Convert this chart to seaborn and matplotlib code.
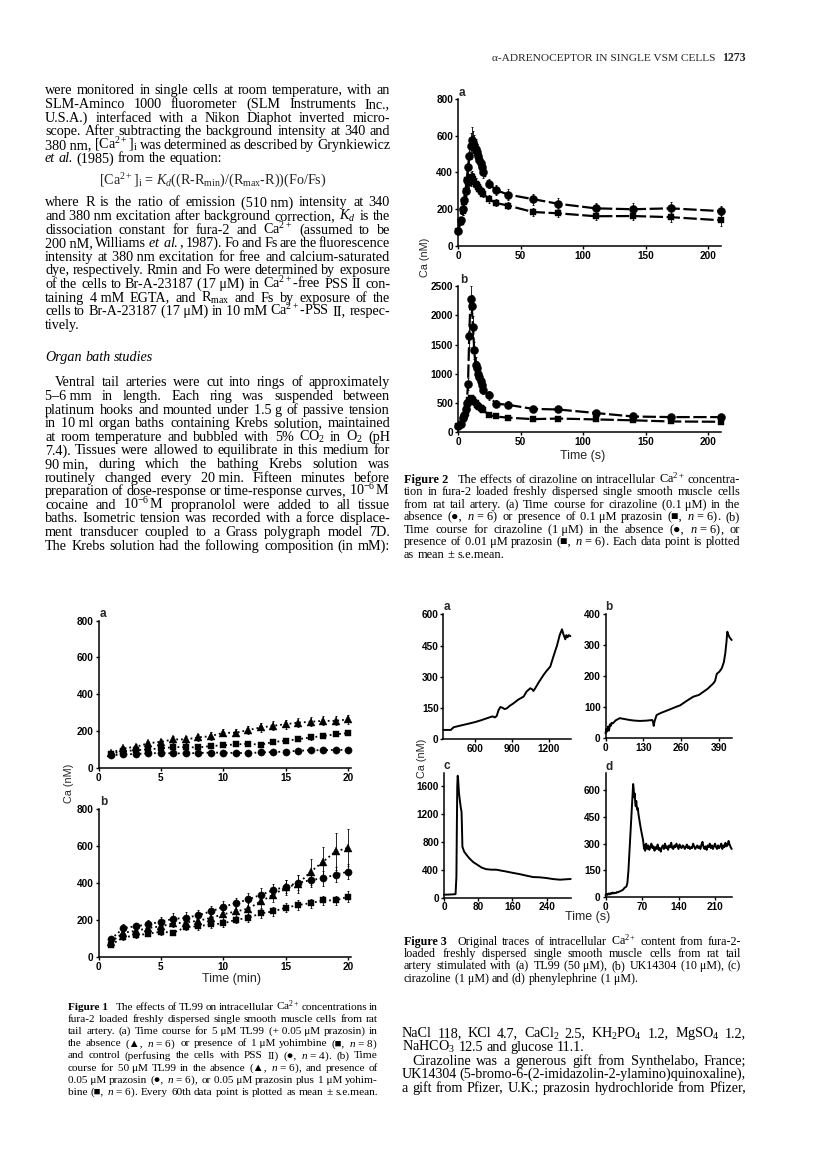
import statistics
import matplotlib
matplotlib.use("Agg")
import matplotlib.pyplot as plt
import seaborn as sns

# ---------------------------------------------------------------- data
# Figure 1 (TL99), time in min
t1 = [1, 2, 3, 4, 5, 6, 7, 8, 9, 10, 11, 12, 13, 14, 15, 16, 17, 18, 19, 20]
f1a_tri = [80, 105, 114, 133, 141, 154, 154, 165, 172, 190, 190, 205, 219, 228, 237, 245, 250, 255, 255, 263]
f1a_tri_e = [10, 12, 14, 15, 15, 18, 18, 18, 20, 20, 20, 22, 22, 25, 25, 25, 25, 25, 25, 25]
f1a_sq = [75, 90, 95, 100, 105, 112, 112, 110, 118, 122, 127, 130, 125, 140, 147, 155, 165, 172, 182, 188]
f1a_sq_e = [8, 10, 10, 10, 10, 10, 10, 10, 10, 10, 10, 12, 12, 12, 12, 12, 12, 12, 12, 12]
f1a_ci = [68, 72, 75, 78, 80, 78, 78, 80, 82, 82, 80, 80, 83, 85, 88, 92, 95, 95, 97, 97]
f1a_ci_e = [8, 8, 8, 8, 8, 8, 8, 8, 8, 8, 8, 8, 8, 8, 8, 8, 8, 8, 8, 8]
f1b_tri = [80, 130, 140, 155, 165, 180, 185, 195, 210, 230, 245, 260, 300, 335, 375, 395, 460, 515, 570, 590]
f1b_tri_e = [10, 15, 15, 15, 15, 20, 20, 20, 25, 25, 30, 30, 35, 40, 40, 50, 70, 80, 100, 100]
f1b_ci = [95, 155, 165, 175, 190, 205, 210, 225, 245, 270, 290, 310, 335, 360, 380, 400, 415, 425, 445, 460]
f1b_ci_e = [10, 20, 20, 25, 25, 30, 30, 30, 30, 30, 30, 35, 35, 35, 35, 40, 40, 40, 40, 40]
f1b_sq = [65, 105, 115, 125, 135, 130, 160, 165, 175, 180, 200, 210, 235, 245, 265, 280, 290, 305, 305, 325]
f1b_sq_e = [10, 15, 15, 15, 15, 15, 15, 20, 20, 20, 20, 20, 25, 25, 25, 25, 25, 25, 25, 30]

# Figure 2 (cirazoline), time in s
t2 = [0, 2, 4, 5, 6, 7, 8, 9, 10, 11, 12, 13, 14, 15, 16, 17, 18, 19, 20, 25, 30, 40, 60, 80, 110, 140, 170, 210]
f2a_ci = [80, 140, 200, 250, 300, 360, 430, 490, 545, 575, 565, 550, 530, 510, 490, 470, 450, 430, 400, 340, 305, 280, 255, 230, 205, 200, 205, 190]
f2a_ci_e = [10, 20, 30, 30, 40, 50, 60, 60, 70, 70, 60, 55, 50, 45, 40, 40, 35, 30, 30, 25, 25, 30, 30, 30, 30, 35, 35, 30]
f2a_sq = [80, 130, 190, 240, 300, 360, 350, 345, 365, 375, 365, 350, 340, 330, 320, 310, 300, 292, 285, 255, 235, 220, 185, 178, 162, 163, 157, 140]
f2a_sq_e = [10, 15, 20, 25, 30, 35, 40, 40, 40, 35, 30, 30, 30, 25, 25, 25, 20, 20, 20, 20, 20, 20, 20, 20, 20, 20, 25, 30]
f2b_ci = [100, 150, 250, 300, 400, 500, 820, 1650, 2280, 2150, 1800, 1400, 1150, 1100, 1000, 950, 880, 800, 730, 630, 490, 470, 400, 390, 330, 270, 260, 260]
f2b_ci_e = [10, 20, 30, 40, 50, 60, 100, 200, 220, 200, 180, 150, 130, 120, 110, 100, 100, 90, 80, 70, 60, 60, 50, 50, 40, 30, 30, 30]
f2b_sq = [100, 150, 230, 260, 330, 420, 500, 560, 590, 575, 550, 520, 500, 475, 450, 430, 410, 395, 380, 295, 270, 250, 225, 235, 220, 205, 185, 180]
f2b_sq_e = [10, 20, 25, 30, 35, 40, 40, 40, 40, 40, 35, 35, 30, 30, 30, 30, 25, 25, 25, 20, 20, 20, 20, 20, 20, 20, 20, 20]

# Figure 3 (original traces), time in s
t3a = [340, 400, 423, 480, 559, 600, 650, 695, 740, 760, 775, 790, 805, 820, 840, 859, 880, 913, 950, 995, 1020, 1050,
       1065, 1075, 1090, 1120, 1158, 1185, 1213, 1240, 1268, 1290, 1309, 1320, 1336, 1345, 1355, 1365, 1377]
v3a = [45, 45, 58, 66, 77, 83, 92, 101, 110, 105, 112, 140, 155, 152, 145, 149, 160, 173, 190, 205, 230, 245,
       240, 232, 245, 275, 309, 330, 349, 400, 450, 500, 528, 505, 480, 500, 490, 500, 495]
t3b = [0, 3, 6, 9, 12, 15, 18, 21, 25, 35, 49, 60, 83, 100, 118, 140, 160, 163, 165, 168, 175, 190, 209, 225, 243,
       255, 266, 280, 300, 320, 335, 350, 369, 375, 381, 390, 398, 405, 410, 414, 417, 420, 425, 432]
v3b = [16, 30, 22, 38, 25, 45, 40, 50, 48, 58, 65, 63, 59, 57, 56, 57, 59, 52, 40, 55, 75, 82, 89, 95, 102,
       106, 113, 122, 134, 140, 150, 160, 177, 185, 208, 215, 226, 245, 274, 310, 344, 335, 325, 317]
t3c = [0, 10, 20, 27, 29, 30, 31, 32, 33, 35, 37, 39, 41, 42, 43, 47, 53, 59, 68, 78, 88, 98, 110, 122, 135, 145,
       160, 176, 192, 208, 224, 239, 255, 271, 285, 296]
v3c = [40, 42, 45, 48, 300, 1000, 1600, 1750, 1700, 1500, 1400, 1300, 1230, 1000, 730, 660, 610, 565, 510, 470,
       430, 408, 400, 400, 385, 374, 355, 337, 315, 294, 290, 280, 265, 256, 262, 266]
t3d = [0, 2, 4, 6, 8, 10, 12, 14, 16, 18, 20, 22, 24, 26, 28, 30, 32, 34, 36, 38, 40, 42, 44, 46, 48, 50, 52, 53,
       54, 55, 56, 57, 58, 59, 60, 61, 62, 63, 64, 66, 68, 70, 72, 74, 75, 76, 77, 78,
       80, 82, 84, 86, 88, 90, 92, 94, 96, 98, 100, 102, 104, 106, 108, 110, 112, 114, 116, 118, 120, 122, 124,
       126, 128, 130, 132, 134, 136, 138, 140, 142, 144, 146, 148, 150, 152, 154, 156, 158, 160, 162, 164, 166,
       168, 170, 172, 174, 176, 178, 180, 182, 184, 186, 188, 190, 192, 194, 196, 198, 200, 202, 204, 206, 208,
       210, 212, 214, 216, 218, 220, 222, 224, 226, 228, 230, 232, 234, 236, 238, 240, 242]
v3d = [11, 18, 12, 20, 15, 22, 18, 25, 20, 24, 22, 28, 26, 30, 32, 35, 38, 42, 50, 55, 58, 80, 150, 260, 380, 480,
       600, 635, 610, 560, 582, 530, 510, 540, 507, 490, 500, 470, 450, 414, 380, 350, 320, 270, 290, 260, 280, 300,
       270, 290, 265, 280, 300, 275, 285, 260, 280, 270, 295, 265, 275, 255, 280, 290, 270, 300, 275, 285, 265,
       290, 280, 305, 275, 270, 290, 280, 300, 285, 270, 295, 280, 275, 290, 285, 270, 280, 295, 275, 285, 270,
       280, 275, 300, 285, 270, 280, 290, 275, 285, 270, 295, 310, 280, 270, 285, 265, 290, 280, 300, 275, 290,
       270, 285, 300, 280, 270, 290, 275, 285, 300, 270, 290, 280, 305, 285, 290, 315, 295, 280, 270]

f1_xticks = [0, 5, 10, 15, 20]
f1_yticks = [0, 200, 400, 600, 800]
f2_xticks = [0, 50, 100, 150, 200]
f2a_yticks = [0, 200, 400, 600, 800]
f2b_yticks = [0, 500, 1000, 1500, 2000, 2500]
f3a_xticks, f3a_yticks = [600, 900, 1200], [0, 150, 300, 450, 600]
f3b_xticks, f3b_yticks = [0, 130, 260, 390], [0, 100, 200, 300, 400]
f3c_xticks, f3c_yticks = [0, 80, 160, 240], [0, 400, 800, 1200, 1600]
f3d_xticks, f3d_yticks = [0, 70, 140, 210], [0, 150, 300, 450, 600]

# ---------------------------------------------------------------- setup
sns.set_theme(style="ticks")
SANS = ["Liberation Sans", "DejaVu Sans"]
SERIF = ["Liberation Serif", "DejaVu Sans"]
plt.rcParams["font.family"] = SANS
plt.rcParams["mathtext.fontset"] = "custom"
plt.rcParams["mathtext.rm"] = "Liberation Serif"
plt.rcParams["mathtext.it"] = "Liberation Serif:italic"
plt.rcParams["mathtext.bf"] = "Liberation Serif:bold"

W, H, DPI = 816, 1171, 100
fig = plt.figure(figsize=(W / DPI, H / DPI), dpi=DPI)
fig.patch.set_facecolor("white")
renderer = fig.canvas.get_renderer()


def make_ax(l, r, t, b):
    return fig.add_axes([l / W, 1 - b / H, (r - l) / W, (b - t) / H])


def style(ax, xlim, ylim, xt, yt, fs=7.2):
    ax.set_xlim(*xlim)
    ax.set_ylim(*ylim)
    ax.set_xticks(xt)
    ax.set_yticks(yt)
    ax.set_xticklabels([str(v) for v in xt])
    ax.set_yticklabels([str(v) for v in yt])
    sns.despine(ax=ax)
    for s in ("left", "bottom"):
        ax.spines[s].set_color("black")
        ax.spines[s].set_linewidth(1.1)
    ax.tick_params(axis="both", direction="out", length=2.5, width=1, colors="black",
                   labelsize=fs, pad=1)
    for lab in ax.get_xticklabels() + ax.get_yticklabels():
        lab.set_fontweight("bold")
        lab.set_family(SANS)
    ax.set_xlabel("")
    ax.set_ylabel("")
    ax.grid(False)
    ax.set_facecolor("none")


def series(ax, x, y, e, marker, ms, ls, lw):
    ax.errorbar(x, y, yerr=e, fmt="none", ecolor="black", elinewidth=0.6, capsize=1.0,
                capthick=0.6, clip_on=False)
    sns.lineplot(x=x, y=y, ax=ax, color="black", marker=marker, markersize=ms,
                 markeredgecolor="black", markeredgewidth=0.3, linestyle=ls, linewidth=lw,
                 estimator=None, sort=False)
    ax.lines[-1].set_clip_on(False)


def trace(ax, x, y):
    sns.lineplot(x=x, y=y, ax=ax, color="black", linewidth=1.4, estimator=None, sort=False)
    ax.lines[-1].set_clip_on(False)


def ftext(x, y, s, **kw):
    return fig.text(x / W, 1 - y / H, s, **kw)


# ---------------------------------------------------------------- Figure 2
ax = make_ax(458, 720.5, 99, 246)
series(ax, t2, f2a_ci, f2a_ci_e, "o", 5.8, (0, (6, 1.6)), 1.6)
series(ax, t2, f2a_sq, f2a_sq_e, "s", 4.6, (0, (6, 1.6)), 1.6)
style(ax, (0, 210), (0, 800), f2_xticks, f2a_yticks)

ax = make_ax(458, 720.5, 286, 432.3)
series(ax, t2, f2b_ci, f2b_ci_e, "o", 5.8, (0, (6, 1.6)), 1.6)
series(ax, t2, f2b_sq, f2b_sq_e, "s", 4.6, (0, (6, 1.6)), 1.6)
style(ax, (0, 210), (0, 2500), f2_xticks, f2b_yticks)

ftext(459, 93, "a", fontsize=8.5, fontweight="bold", ha="left", va="center", family=SANS)
ftext(460, 280, "b", fontsize=8.5, fontweight="bold", ha="left", va="center", family=SANS)
ftext(425, 257, "Ca (nM)", fontsize=7.8, rotation=90, ha="center", va="center", family=SANS)
ftext(583, 456, "Time (s)", fontsize=9, ha="center", va="center", family=SANS)

# ---------------------------------------------------------------- Figure 1
ax = make_ax(98.5, 350.6, 620.7, 767.7)
series(ax, t1, f1a_tri, f1a_tri_e, "^", 5.2, ":", 1.3)
series(ax, t1, f1a_sq, f1a_sq_e, "s", 4.2, ":", 1.3)
series(ax, t1, f1a_ci, f1a_ci_e, "o", 5.2, ":", 1.3)
style(ax, (0, 20.2), (0, 800), f1_xticks, f1_yticks)

ax = make_ax(98.5, 350.6, 809, 956.7)
series(ax, t1, f1b_tri, f1b_tri_e, "^", 5.2, ":", 1.3)
series(ax, t1, f1b_ci, f1b_ci_e, "o", 5.2, ":", 1.3)
series(ax, t1, f1b_sq, f1b_sq_e, "s", 4.2, ":", 1.3)
style(ax, (0, 20.2), (0, 800), f1_xticks, f1_yticks)

ftext(100, 614, "a", fontsize=8.5, fontweight="bold", ha="left", va="center", family=SANS)
ftext(100.5, 802, "b", fontsize=8.5, fontweight="bold", ha="left", va="center", family=SANS)
ftext(69, 783, "Ca (nM)", fontsize=7.8, rotation=90, ha="center", va="center", family=SANS)
ftext(231, 979, "Time (min)", fontsize=9, ha="center", va="center", family=SANS)

# ---------------------------------------------------------------- Figure 3
ax = make_ax(443.5, 570.7, 614.3, 739.3)
trace(ax, t3a, v3a)
style(ax, (340, 1380), (0, 600), f3a_xticks, f3a_yticks)
ax = make_ax(605.5, 731.7, 614.3, 738.3)
trace(ax, t3b, v3b)
style(ax, (0, 432), (0, 400), f3b_xticks, f3b_yticks)
ax = make_ax(444, 570.7, 773, 897.5)
trace(ax, t3c, v3c)
style(ax, (0, 296), (0, 1790), f3c_xticks, f3c_yticks)
ax = make_ax(605.5, 731.7, 773, 897)
trace(ax, t3d, v3d)
style(ax, (0, 242), (0, 697), f3d_xticks, f3d_yticks)

for lx, ly, s in [(444, 607, "a"), (605, 607, "b"), (444, 766, "c"), (605, 767, "d")]:
    ftext(lx, ly, s, fontsize=8.5, fontweight="bold", ha="left", va="center", family=SANS)
ftext(422, 758, "Ca (nM)", fontsize=7.8, rotation=90, ha="center", va="center", family=SANS)
ftext(588, 917, "Time (s)", fontsize=9, ha="center", va="center", family=SANS)


# ---------------------------------------------------------------- text
def make_tokens(line, size):
    objs, extra = [], []
    em = size * DPI / 72.0
    for tok in line.split(" "):
        st, wt = "normal", "normal"
        if tok.startswith("#") and tok.endswith("#") and len(tok) > 2:
            tok = tok[1:-1]
            wt = "bold"
        elif tok.startswith("§"):
            tok = tok[1:]
            st = "italic"
        if "$" not in tok:
            tok = tok.replace("~", " ")
        t = fig.text(0, 0, tok, fontsize=size, family=SERIF, style=st, weight=wt,
                     va="baseline", ha="left", color="black")
        objs.append(t)
        extra.append(0.55 * em if wt == "bold" else 0.0)
    return objs, extra


def widths(objs):
    return [o.get_window_extent(renderer).width for o in objs]


def fill_ratio(x0, x1, line, size, indent=0.0):
    objs, extra = make_tokens(line, size)
    ws = widths(objs)
    em = size * DPI / 72.0
    nat = sum(ws) + 0.25 * em * (len(objs) - 1) + sum(extra)
    for o in objs:
        o.remove()
    return (x1 - x0 - indent) / nat


def put_line(x0, x1, yc, line, size, justify=True, indent=0.0):
    objs, extra = make_tokens(line, size)
    em = size * DPI / 72.0
    ws = widths(objs)
    space = 0.25 * em
    start = x0 + indent
    target = x1 - start
    n = len(objs)
    if justify and n > 1:
        gap = (target - sum(ws) - sum(extra)) / (n - 1)
        if gap < 0.6 * space:
            sc = (target - 0.65 * space * (n - 1) - sum(extra)) / sum(ws)
            for o in objs:
                o.set_fontsize(size * sc)
            ws = widths(objs)
            gap = (target - sum(ws) - sum(extra)) / (n - 1)
    else:
        gap = space
        if sum(ws) + space * (n - 1) + sum(extra) > target:
            sc = (target - space * (n - 1) - sum(extra)) / sum(ws)
            for o in objs:
                o.set_fontsize(size * sc)
            ws = widths(objs)
    base = yc + 0.24 * em
    x = start
    for o, w, ex in zip(objs, ws, extra):
        o.set_position((x / W, 1 - base / H))
        x += w + gap + ex


def block(x0, x1, y0, step, lines, size, indents=None, autosize=True, fill=0.98):
    indents = indents or {}
    if autosize:
        rs = []
        for i, ln in enumerate(lines):
            if not ln.startswith("!"):
                rs.append(fill_ratio(x0, x1, ln, size, indents.get(i, 0.0)))
        if rs:
            size = size * statistics.median(rs) * fill
    for i, ln in enumerate(lines):
        just = True
        if ln.startswith("!"):
            ln = ln[1:]
            just = False
        put_line(x0, x1, y0 + i * step, ln, size, justify=just, indent=indents.get(i, 0.0))
    return size


# header
ftext(716, 61, "α-ADRENOCEPTOR IN SINGLE VSM CELLS", fontsize=8.2, family=SERIF, ha="right",
      va="baseline")
ftext(746, 61, "1273", fontsize=8.6, family=SERIF, fontweight="bold", ha="right", va="baseline")

# left column
LX0, LX1 = 45, 390
p1 = [
    "were monitored in single cells at room temperature, with an",
    "SLM-Aminco 1000 fluorometer (SLM Instruments Inc.,",
    "U.S.A.) interfaced with a Nikon Diaphot inverted micro-",
    "scope. After subtracting the background intensity at 340 and",
    "380~nm, [Ca$^{2+}$]$_{\\mathrm{i}}$ was determined as described by Grynkiewicz",
    "!§et §al. (1985) from the equation:",
]
p1b = [
    "where R is the ratio of emission (510~nm) intensity at 340",
    "and 380~nm excitation after background correction, $K_d$ is the",
    "dissociation constant for fura-2 and Ca$^{2+}$ (assumed to be",
    "200~nM, Williams $\\mathit{et}$ $\\mathit{al.}$, 1987). Fo and Fs are the fluorescence",
    "intensity at 380~nm excitation for free and calcium-saturated",
    "dye, respectively. Rmin and Fo were determined by exposure",
    "of the cells to Br-A-23187 (17~μM) in Ca$^{2+}$-free PSS II con-",
    "taining 4~mM EGTA, and R$_{\\mathrm{max}}$ and Fs by exposure of the",
    "cells to Br-A-23187 (17~μM) in 10~mM Ca$^{2+}$-PSS II, respec-",
    "!tively.",
]
p2 = [
    "Ventral tail arteries were cut into rings of approximately",
    "5–6~mm in length. Each ring was suspended between",
    "platinum hooks and mounted under 1.5~g of passive tension",
    "in 10~ml organ baths containing Krebs solution, maintained",
    "at room temperature and bubbled with 5% CO$_2$ in O$_2$ (pH",
    "7.4). Tissues were allowed to equilibrate in this medium for",
    "90~min, during which the bathing Krebs solution was",
    "routinely changed every 20~min. Fifteen minutes before",
    "preparation of dose-response or time-response curves, 10$^{-6}\\,$M",
    "cocaine and 10$^{-6}\\,$M propranolol were added to all tissue",
    "baths. Isometric tension was recorded with a force displace-",
    "ment transducer coupled to a Grass polygraph model 7D.",
    "The Krebs solution had the following composition (in mM):",
]
rs_all = [fill_ratio(LX0, LX1, ln, 9.0) for ln in p1 + p1b + p2 if not ln.startswith("!")]
BODY = 9.0 * statistics.median(rs_all) * 0.98
block(LX0, LX1, 91, 13.6, p1, BODY, autosize=False)
ftext(213, 181 + 0.24 * BODY * DPI / 72,
      "[Ca$^{2+}$]$_{\\mathrm{i}}$ = $K_d$((R-R$_{\\mathrm{min}}$)/(R$_{\\mathrm{max}}$-R))(Fo/Fs)",
      fontsize=BODY, family=SERIF, ha="center", va="baseline")
block(LX0, LX1, 203, 13.6, p1b, BODY, autosize=False)
put_line(LX0, LX1, 358, "§Organ §bath §studies", BODY, justify=False)
block(LX0, LX1, 383, 13.6, p2, BODY, indents={0: 10}, autosize=False)

# Figure 2 caption
cap2 = [
    "#Figure~2# The effects of cirazoline on intracellular Ca$^{2+}$ concentra-",
    "tion in fura-2 loaded freshly dispersed single smooth muscle cells",
    "from rat tail artery. (a) Time course for cirazoline (0.1~μM) in the",
    "absence (●, $n\\,=\\,6$) or presence of 0.1~μM prazosin (■, $n\\,=\\,6$). (b)",
    "Time course for cirazoline (1~μM) in the absence (●, $n\\,=\\,6$), or",
    "presence of 0.01~μM prazosin (■, $n\\,=\\,6$). Each data point is plotted",
    "!as mean ± s.e.mean.",
]
block(404, 740, 480, 12.5, cap2, 8.0, fill=0.97)

# Figure 1 caption
cap1 = [
    "#Figure~1# The effects of TL99 on intracellular Ca$^{2+}$ concentrations in",
    "fura-2 loaded freshly dispersed single smooth muscle cells from rat",
    "tail artery. (a) Time course for 5~μM TL99 (+~0.05~μM prazosin) in",
    "the absence (▲, $n\\,=\\,6$) or presence of 1~μM yohimbine (■, $n\\,=\\,8$)",
    "and control (perfusing the cells with PSS II) (●, $n\\,=\\,4$). (b) Time",
    "course for 50~μM TL99 in the absence (▲, $n\\,=\\,6$), and presence of",
    "0.05~μM prazosin (●, $n\\,=\\,6$), or 0.05~μM prazosin plus 1~μM yohim-",
    "bine (■, $n\\,=\\,6$). Every 60th data point is plotted as mean ± s.e.mean.",
]
block(68, 378, 1007, 12.2, cap1, 7.6, fill=0.97)

# Figure 3 caption
cap3 = [
    "#Figure~3# Original traces of intracellular Ca$^{2+}$ content from fura-2-",
    "loaded freshly dispersed single smooth muscle cells from rat tail",
    "artery stimulated with (a) TL99 (50~μM), (b) UK14304 (10~μM), (c)",
    "!cirazoline (1~μM) and (d) phenylephrine (1~μM).",
]
block(404, 741, 942, 12.3, cap3, 8.0, fill=0.97)

# right column body text
rb = [
    "NaCl 118, KCl 4.7, CaCl$_2$ 2.5, KH$_2$PO$_4$ 1.2, MgSO$_4$ 1.2,",
    "!NaHCO$_3$ 12.5 and glucose 11.1.",
    "Cirazoline was a generous gift from Synthelabo, France;",
    "UK14304 (5-bromo-6-(2-imidazolin-2-ylamino)quinoxaline),",
    "a gift from Pfizer, U.K.; prazosin hydrochloride from Pfizer,",
]
block(402, 746, 1034, 13.6, rb, BODY, indents={2: 10}, autosize=False)

fig.savefig("out.png", dpi=DPI, facecolor="white")
